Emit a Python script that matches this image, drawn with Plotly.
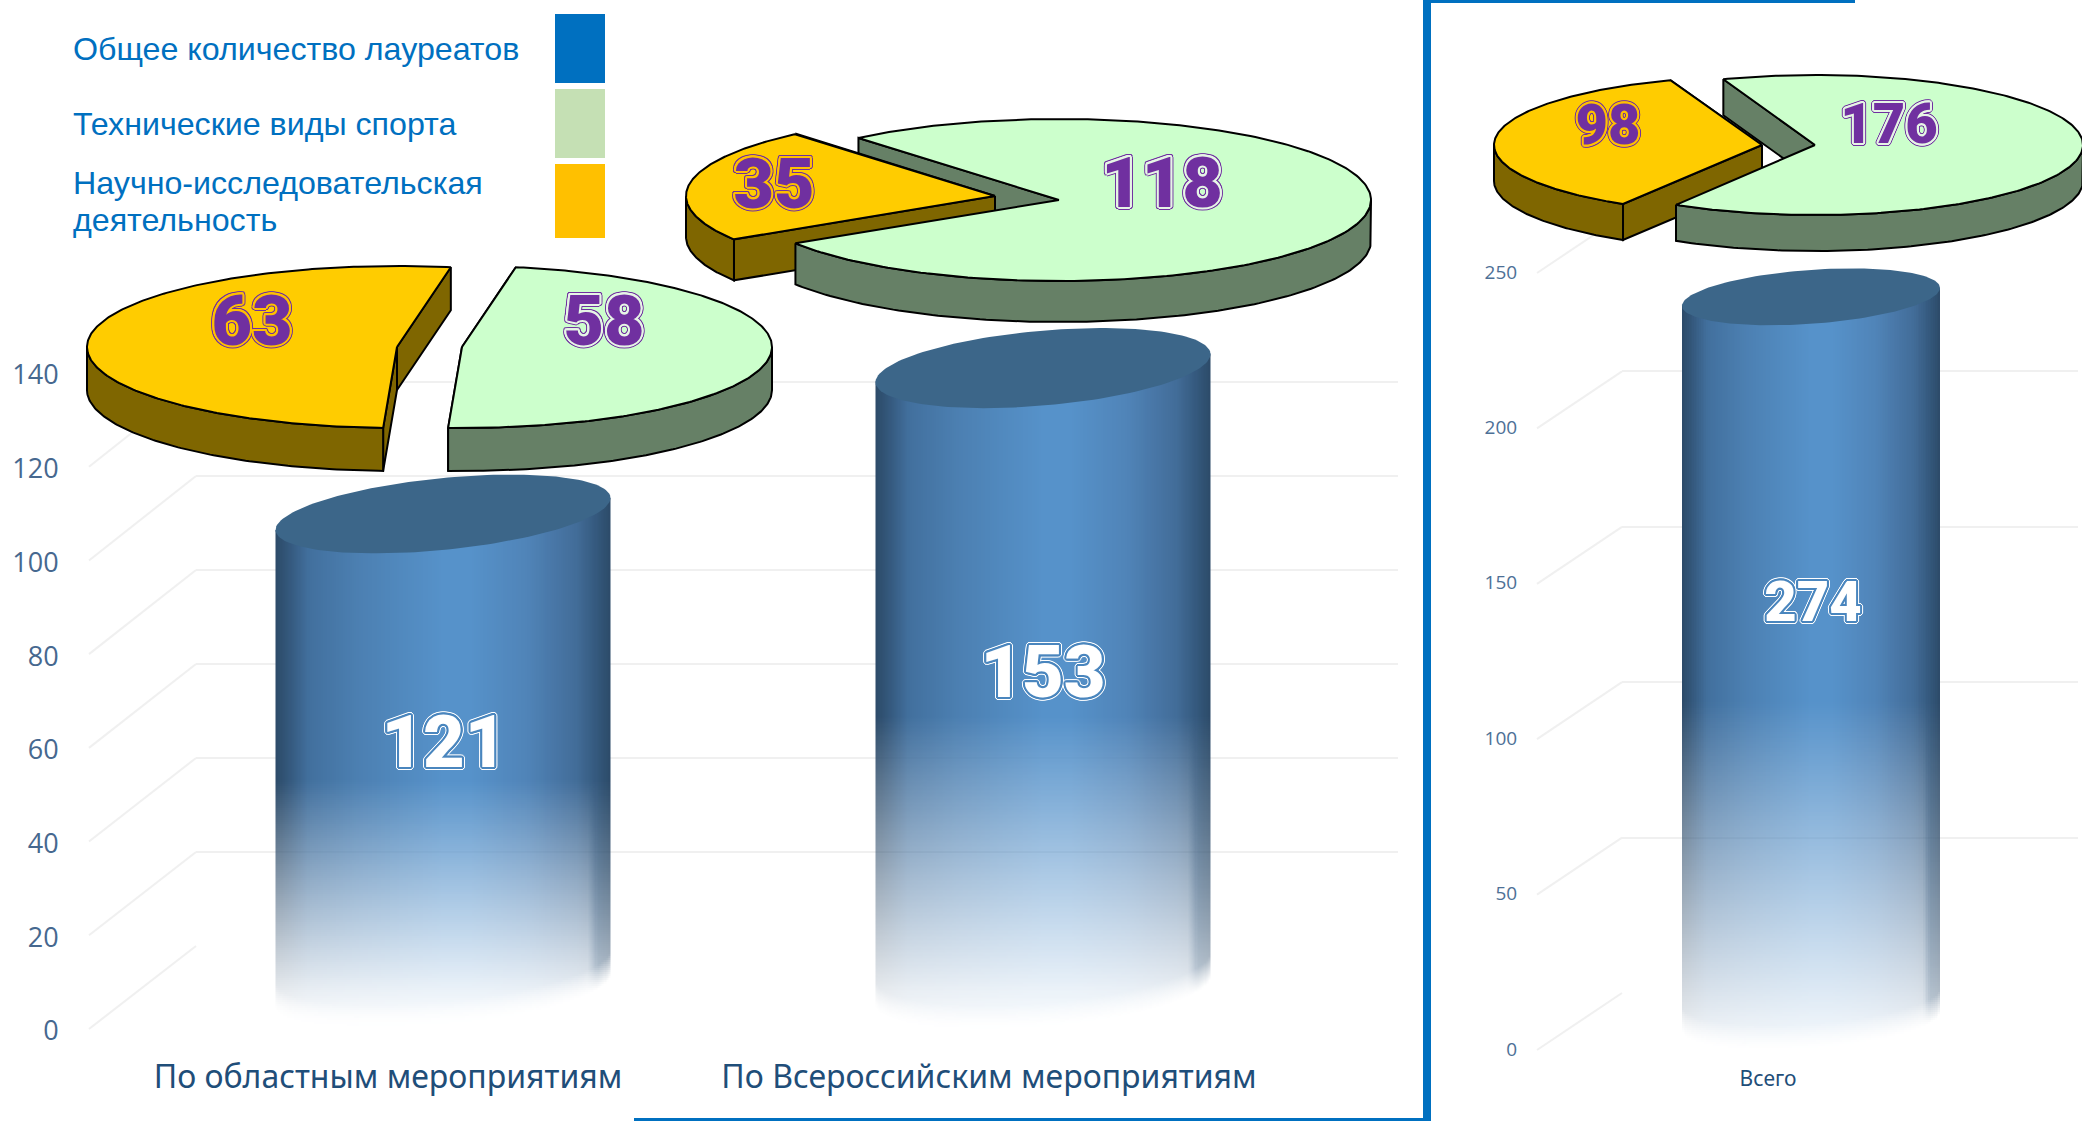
import numpy as np
import plotly.graph_objects as go

W, H = 2082, 1121
# ---------- data ----------
categories_regional = ["По областным мероприятиям", "По Всероссийским мероприятиям"]
categories_total = ["Всего"]
laureates_regional = [121, 153]
laureates_total = [274]
technical_regional = [58, 118]
technical_total = [176]
research_regional = [63, 35]
research_total = [98]
# cylinder height as it reads on the drawn value axis
cylinder_axis_regional = [101.5, 132.6]
cylinder_axis_total = [233]
ticks_regional = [0, 20, 40, 60, 80, 100, 120, 140]
ticks_total = [0, 50, 100, 150, 200, 250]
legend_labels = ["Общее количество лауреатов", "Технические виды спорта",
                 "Научно-исследовательская", "деятельность"]

BLUE = "#0070C0"
TICK1, CAT = "#46688F", "#1F4E79"
GRID = "#F0F0F0"

fig = go.Figure()

def dom_x(a, b): return [a / W, b / W]
def dom_y(top, bottom): return [1 - bottom / H, 1 - top / H]

ax_off = dict(visible=False, fixedrange=True)
L = {}
L["xaxis2"] = dict(domain=dom_x(196, 1398), range=[0, 1], anchor="y2", showticklabels=False, showgrid=False, zeroline=False, showline=False, ticks="")
L["yaxis2"] = dict(domain=dom_y(288, 946), range=[0, 140], anchor="x2", tickvals=ticks_regional, showticklabels=False, showgrid=True, gridcolor=GRID, gridwidth=2, zeroline=False, showline=False, ticks="")
L["xaxis3"] = dict(domain=dom_x(1622, 2078), range=[0, 1], anchor="y3", showticklabels=False, showgrid=False, zeroline=False, showline=False, ticks="")
L["yaxis3"] = dict(domain=dom_y(216, 993), range=[0, 250], anchor="x3", tickvals=ticks_total, showticklabels=False, showgrid=True, gridcolor=GRID, gridwidth=2, zeroline=False, showline=False, ticks="")
fig.add_trace(go.Scatter(x=[0], y=[0], xaxis="x2", yaxis="y2", mode="none", showlegend=False, hoverinfo="skip"))
fig.add_trace(go.Scatter(x=[0], y=[0], xaxis="x3", yaxis="y3", mode="none", showlegend=False, hoverinfo="skip"))

L["xaxis"] = dict(domain=dom_x(89, 1398), range=[(89 - 388) / 601, (1398 - 388) / 601], anchor="y",
                  tickvals=list(range(len(categories_regional))), ticktext=categories_regional,
                  ticks="outside", ticklen=18, tickcolor="rgba(0,0,0,0)", showgrid=False, zeroline=False, showline=False,
                  tickfont=dict(family="Noto Sans", size=32, color=CAT))
L["yaxis"] = dict(domain=dom_y(375, 1031), range=[0, 140], anchor="x", tickvals=ticks_regional,
                  ticks="outside", ticklen=24, tickcolor="rgba(0,0,0,0)", showgrid=False, zeroline=False, showline=False,
                  tickfont=dict(family="Open Sans", size=27, color=TICK1))
fig.add_trace(go.Scatter(x=[0], y=[0], mode="none", showlegend=False, hoverinfo="skip"))
L["xaxis4"] = dict(domain=dom_x(1537, 2078), range=[(1537 - 1768) / 600, (2078 - 1768) / 600], anchor="y4",
                   tickvals=[0], ticktext=categories_total, ticks="outside", ticklen=11, tickcolor="rgba(0,0,0,0)",
                   showgrid=False, zeroline=False, showline=False, tickfont=dict(family="Noto Sans", size=21, color=CAT))
L["yaxis4"] = dict(domain=dom_y(272, 1049), range=[0, 250], anchor="x4", tickvals=ticks_total,
                   ticks="outside", ticklen=15, tickcolor="rgba(0,0,0,0)", showgrid=False, zeroline=False, showline=False,
                   tickfont=dict(family="Open Sans", size=19, color="#4D7096"))
fig.add_trace(go.Scatter(x=[0], y=[0], xaxis="x4", yaxis="y4", mode="none", showlegend=False, hoverinfo="skip"))

def cyl_axes(nx, ny, x0_px, dx_px, base_px, scale):
    L[f"xaxis{nx}"] = dict(domain=[0, 1], range=[(0 - x0_px) / dx_px, (W - x0_px) / dx_px], anchor=f"y{ny}", constrain="range", **ax_off)
    L[f"yaxis{ny}"] = dict(domain=[0, 1], range=[(base_px - H) / scale, base_px / scale], anchor=f"x{nx}", scaleanchor=False, constrain="range", **ax_off)

cyl_axes(5, 5, 443, 600, 990, 4.69)
cyl_axes(6, 6, 1811, 600, 1021, 3.108)

STOPS_U = [0, .04, .1, .25, .5, .58, .75, .9, .96, 1]
STOPS_R = [44, 52, 66, 76, 86, 86, 80, 66, 52, 44]
STOPS_G = [74, 88, 112, 128, 146, 146, 132, 108, 88, 74]
STOPS_B = [104, 124, 158, 178, 202, 202, 184, 152, 124, 104]

def add_cylinder(i, value, half_px, scale, k, b, ax):
    nc, step = 150, 2.0
    H_px = value * scale
    dv = step / scale
    v_top = value + (k + 2) / scale
    v_bot = -(b + 14) / scale
    nr = int((v_top - v_bot) / dv)
    vs = v_bot + (np.arange(nr) + .5) * dv
    us = (np.arange(nc) + .5) / nc * 2 - 1
    U, V = np.meshgrid(us, vs)
    f = V / value
    a = np.interp(f, [-.08, 0, .09, .29, .44, 1], [0, .12, .3, .7, 1, 1])
    strip = np.clip((U - .86) / .06, 0, 1)
    a = a ** (1 - .4 * strip)
    dy_bottom = (b * np.sqrt(1 - U ** 2) - k * U) + V * scale
    a = a * np.clip(dy_bottom / 24, 0, 1)
    dy_top = V * scale - H_px - k * U
    a = np.where(dy_top > 0, 0, a)
    t = (U + 1) / 2
    z = np.stack([np.interp(t, STOPS_U, STOPS_R), np.interp(t, STOPS_U, STOPS_G),
                  np.interp(t, STOPS_U, STOPS_B), np.round(a, 3)], axis=-1)
    w = 2 * half_px / 600
    fig.add_trace(go.Image(z=np.round(z, 3).tolist(), colormodel="rgba", x0=i - w / 2 + w / nc / 2, dx=w / nc,
                           y0=vs[0], dy=dv, xaxis=f"x{ax}", yaxis=f"y{ax}", hoverinfo="skip", zsmooth="fast"))
    th = np.linspace(0, 2 * np.pi, 160)
    ex = i + half_px / 600 * np.cos(th)
    ey = value + (b * np.sin(th) + k * np.cos(th)) / scale
    fig.add_trace(go.Scatter(x=ex, y=ey, mode="lines", fill="toself", fillcolor="#3C6689", line=dict(width=0, color="#3C6689"),
                             xaxis=f"x{ax}", yaxis=f"y{ax}", showlegend=False, hoverinfo="skip"))

add_cylinder(0, cylinder_axis_regional[0], 167.5, 4.69, 16, 36, 5)
add_cylinder(1, cylinder_axis_regional[1], 167.5, 4.69, 14, 37.5, 5)
add_cylinder(0, cylinder_axis_total[0], 129, 3.108, 9, 27, 6)

L["xaxis7"] = dict(domain=[0, 1], range=[0, W], anchor="y7", **ax_off)
L["yaxis7"] = dict(domain=[0, 1], range=[H, 0], anchor="x7", **ax_off)

def px(xs, ys, **kw):
    fig.add_trace(go.Scatter(x=xs, y=ys, xaxis="x7", yaxis="y7", showlegend=False, hoverinfo="skip", **kw))

for t in ticks_regional:
    px([89, 196], [1029 - t * 656 / 140, 946 - t * 658 / 140], mode="lines", line=dict(color=GRID, width=2))
for t in ticks_total:
    px([1537, 1622], [1050 - t * 777 / 250, 993 - t * 777 / 250], mode="lines", line=dict(color=GRID, width=2))

GOLD, GOLD_S = "#FFCC00", "#7F6600"
GREEN, GREEN_S = "#CCFFCC", "#668066"

def poly(xs, ys, col):
    px(np.r_[xs, xs[0]], np.r_[ys, ys[0]], mode="lines", fill="toself", fillcolor=col,
       line=dict(color="black", width=2))

def arc(cx, cy, a, b, t0, span):
    ts = np.radians(np.linspace(t0, t0 + span, 240))
    return ts, cx + a * np.cos(ts), cy - b * np.sin(ts)

def cut_face(cx, cy, a, b, th, t, side):
    x = cx + a * np.cos(np.radians(t))
    y = cy - b * np.sin(np.radians(t))
    poly(np.array([cx, x, x, cx]), np.array([cy, y, y + th, cy + th]), side)

def rim_and_top(cx, cy, a, b, th, t0, span, top, side):
    ts, ax_, ay_ = arc(cx, cy, a, b, t0, span)
    m = np.sin(ts) <= 0
    if m.any():
        rx, ry = ax_[m], ay_[m]
        poly(np.r_[rx, rx[::-1]], np.r_[ry, ry[::-1] + th], side)
    poly(np.r_[cx, ax_], np.r_[cy, ay_], top)

def whole(cx, cy, a, b, th, t0, span, top, side):
    cut_face(cx, cy, a, b, th, t0, side)
    cut_face(cx, cy, a, b, th, t0 + span, side)
    rim_and_top(cx, cy, a, b, th, t0, span, top, side)

def angle(v, total): return v / total * 360

# pie 1
whole(397, 347, 310, 81, 43, 80, angle(research_regional[0], laureates_regional[0]), GOLD, GOLD_S)
g = angle(technical_regional[0], laureates_regional[0])
whole(462, 347, 310, 81, 43, 80 - g, g, GREEN, GREEN_S)
# pie 2: green back face, then gold slice, then green rim and top
cut_face(1059, 200, 312, 81, 41, 130, GREEN_S)
whole(995, 196, 309, 81, 41, 130, angle(research_regional[1], laureates_regional[1]), GOLD, GOLD_S)
g = angle(technical_regional[1], laureates_regional[1])
rim_and_top(1059, 200, 312, 81, 41, 130 - g, g, GREEN, GREEN_S)
# pie 3
cut_face(1815, 145, 268, 70, 36, 110, GREEN_S)
whole(1762, 145, 268, 69, 36, 110, angle(research_total[0], laureates_total[0]), GOLD, GOLD_S)
g = angle(technical_total[0], laureates_total[0])
rim_and_top(1815, 145, 268, 70, 36, 110 - g, g, GREEN, GREEN_S)

def ring(r, col, n=16):
    return [f"{r*np.cos(2*np.pi*q/n):.1f}px {r*np.sin(2*np.pi*q/n):.1f}px 0 {col}" for q in range(n)]

def label(x, y, val, size, fill, inner, outer, r1=2, r2=3):
    shadow = ", ".join(ring(r1, inner) + ring(r2, outer))
    px([x], [y], mode="text", text=[str(val)], textposition="middle center",
       textfont=dict(family="Roboto", size=size, color=fill, weight=900, shadow=shadow))

PURPLE = "#7030A0"
label(252, 327, research_regional[0], 70, PURPLE, "#FFC000", PURPLE)
label(604, 327, technical_regional[0], 70, PURPLE, "#E6F5E6", PURPLE)
label(774, 190, research_regional[1], 70, PURPLE, "#FFC000", PURPLE)
label(1162, 189, technical_regional[1], 70, PURPLE, "#E6F5E6", PURPLE)
label(1608, 130, research_total[0], 56, PURPLE, "#FFC000", PURPLE)
label(1889, 129, technical_total[0], 56, PURPLE, "#E6F5E6", PURPLE)
label(444, 749, laureates_regional[0], 72, "white", "#4A86BE", "white")
label(1043, 679, laureates_regional[1], 72, "white", "#4A86BE", "white")
label(1813, 607, laureates_total[0], 56, "white", "#4A86BE", "white")

shapes = []
for (y0, y1), c in zip([(14, 83), (89, 158), (164, 238)], [BLUE, "#C5E0B4", "#FFC000"]):
    shapes.append(dict(type="rect", xref="x7", yref="y7", x0=555, x1=605, y0=y0, y1=y1, fillcolor=c, line_width=0))
for x0, x1, y0, y1 in [(1423, 1431, 0, 1121), (1423, 1855, 0, 3), (634, 1431, 1118, 1121)]:
    shapes.append(dict(type="rect", xref="x7", yref="y7", x0=x0, x1=x1, y0=y0, y1=y1, fillcolor=BLUE, line_width=0))

annotations = [
    dict(x=71, y=y, xref="x7", yref="y7", text=t, showarrow=False, xanchor="left", yanchor="middle", align="left",
         font=dict(family="Liberation Sans", size=32.2, color=BLUE))
    for t, y in zip(legend_labels, [49, 124, 183, 220])
]

fig.update_layout(template="none", width=W, height=H, autosize=False, margin=dict(l=0, r=0, t=0, b=0),
                  paper_bgcolor="white", plot_bgcolor="rgba(0,0,0,0)", showlegend=False,
                  shapes=shapes, annotations=annotations, **L)
fig.write_html("out.html", config=dict(displayModeBar=False),
               post_script="document.body.style.margin='0';document.body.style.overflow='hidden';")
